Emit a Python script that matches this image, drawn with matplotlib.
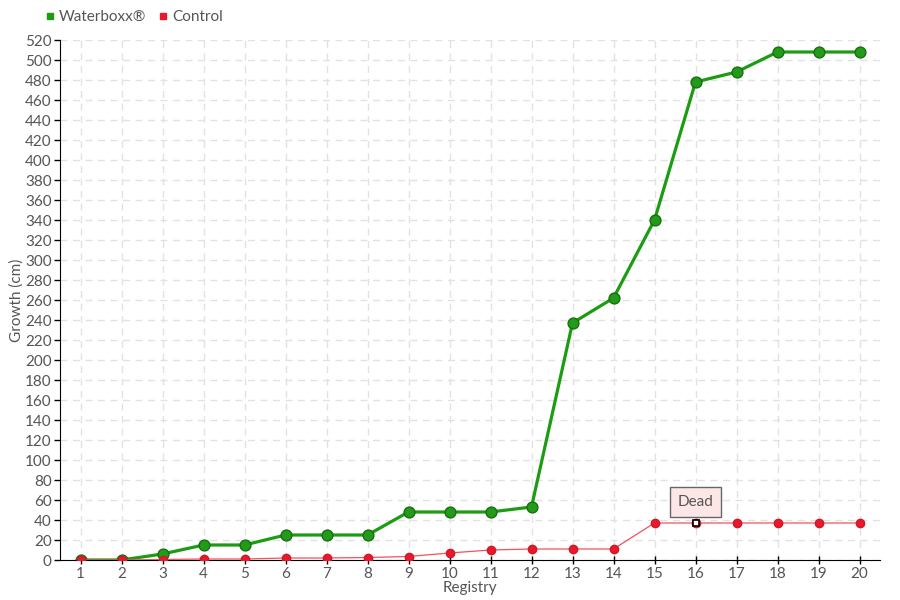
import matplotlib
matplotlib.use('Agg')
import matplotlib.pyplot as plt
from matplotlib.lines import Line2D

registros = list(range(1, 21))
waterboxx = [0, 0, 6, 15, 15, 25, 25, 25, 48, 48, 48, 53, 237, 262, 340, 478, 488, 508, 508, 508]
control = [0, 0, 0.5, 1, 1, 2, 2, 2.5, 3.5, 7, 10, 11, 11, 11, 37, 37, 37, 37, 37, 37]
yticks = list(range(0, 521, 20))

plt.rcParams['font.family'] = ['Lato', 'DejaVu Sans']
gris = '#555555'

fig = plt.figure(figsize=(9, 6), dpi=100)
ax = fig.add_axes([60/900, 40/600, 820/900, 520/600])

ax.plot(registros, control, color='#f4505f', linewidth=0.9, marker='o', markersize=6,
        markerfacecolor='#e8192c', markeredgecolor='#d01828', zorder=3, label='Control')
ax.plot(registros, waterboxx, color='#1c9c12', linewidth=2.3, marker='o', markersize=7.8,
        markerfacecolor='#229a1a', markeredgecolor='#17700f', zorder=2, label='Waterboxx®')

# punto resaltado (Dead)
ax.plot(16, control[15], marker='s', markersize=4.5, markerfacecolor='white',
        markeredgecolor='black', markeredgewidth=1.2, zorder=5)
ax.annotate('Dead', xy=(16, control[15] + 4), xytext=(16, control[15] + 21),
            ha='center', va='center', fontsize=11, color=gris,
            bbox=dict(boxstyle='square,pad=0.5', facecolor='#fde6e6', edgecolor='#666666', linewidth=1),
            arrowprops=dict(arrowstyle='-', color='#666666', lw=0), zorder=6)

ax.set_xlim(0.5, 20.5)
ax.set_ylim(0, 520)
ax.set_xticks(registros)
ax.set_yticks(yticks)
ax.tick_params(colors=gris, labelsize=11, length=4, width=1, pad=2)
ax.tick_params(axis='x', color='black', direction='inout', length=6)
ax.tick_params(axis='y', color='black')

ax.grid(True, color='#e2e2e2', linestyle=(0, (5, 4)), linewidth=1)
ax.set_axisbelow(True)
for s in ['top', 'right']:
    ax.spines[s].set_visible(False)
ax.spines['left'].set_color('black')
ax.spines['bottom'].set_color('black')

ax.set_xlabel('Registry', color=gris, fontsize=11, labelpad=0)
ax.set_ylabel('Growth (cm)', color=gris, fontsize=11, labelpad=1)

h = [Line2D([], [], linestyle='', marker='s', markersize=5, color='#1c9c12'),
     Line2D([], [], linestyle='', marker='s', markersize=5, color='#e8192c')]
fig.legend(h, ['Waterboxx®', 'Control'], loc='upper left', bbox_to_anchor=(42/900, 1 - 10/600),
           ncol=2, frameon=False, fontsize=11, labelcolor=gris, handletextpad=0.1,
           columnspacing=0.6, handlelength=1, borderaxespad=0, borderpad=0)

fig.savefig('out.png', dpi=100)
